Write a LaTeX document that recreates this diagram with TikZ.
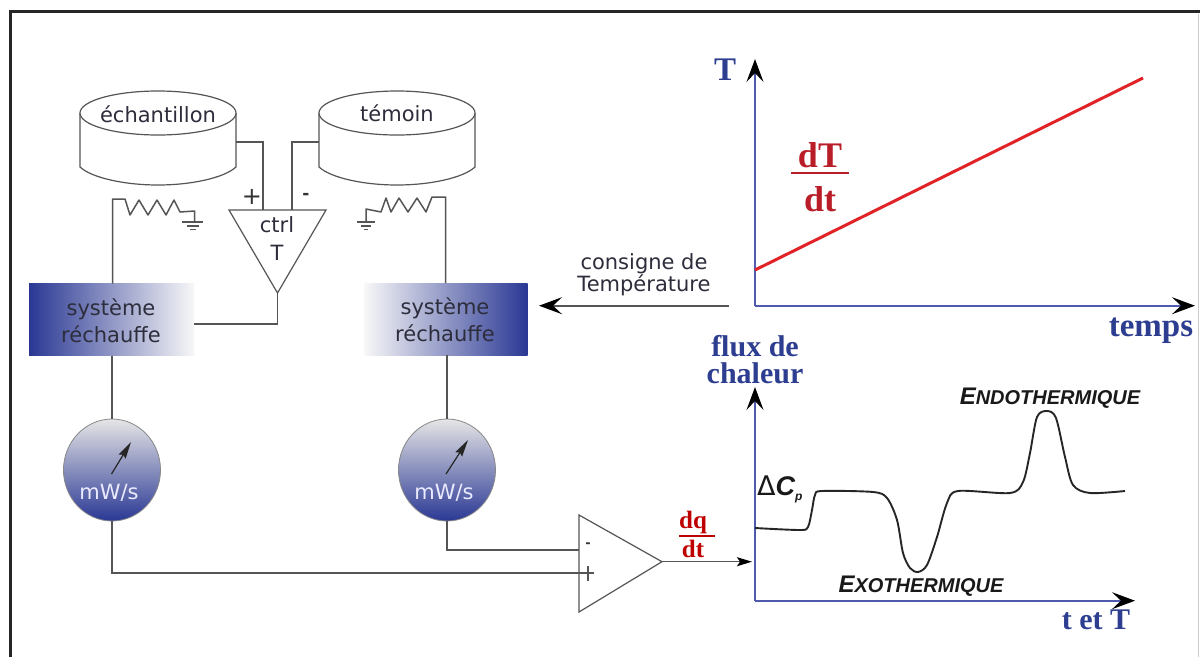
\documentclass[tikz,border=0pt]{standalone}
\usepackage{fontspec}
\setmainfont{DejaVu Sans}
\newfontfamily\serifb{Liberation Serif}
\newfontfamily\hand{Liberation Sans}
\usetikzlibrary{arrows.meta,shapes.geometric}
\definecolor{dscblue}{RGB}{42,56,148}
\definecolor{titleblue}{RGB}{45,62,145}
\definecolor{axisblue}{RGB}{80,90,175}
\definecolor{dscred}{RGB}{185,30,40}
\definecolor{slope}{RGB}{225,35,40}
\definecolor{wire}{RGB}{85,85,85}
\definecolor{inktext}{RGB}{45,45,60}
\tikzset{
 x=1pt,y=-1pt,
 wireline/.style={draw=wire,line width=1.3pt},
 drum/.style={draw=wire,line width=1.2pt,fill=white},
 labeltext/.style={text=inktext,font=\fontsize{21}{28}\selectfont,inner sep=0pt,align=center},
 heatertext/.style={text=inktext,font=\fontsize{21}{27}\selectfont,inner sep=0pt,align=center},
 dial/.style={ellipse,inner sep=0pt,minimum width=97pt,minimum height=102pt,draw=wire!70,line width=.8pt,top color=black!10,middle color=blue!28!black!45,bottom color=dscblue},
 axisline/.style={draw=axisblue,line width=1.6pt},
 tiparrow/.style={-{Stealth[length=23pt,width=17pt,inset=9pt,color=black]}},
 smalltip/.style={-{Stealth[length=15pt,width=9pt,inset=3pt,color=black]}},
 bluetitle/.style={text=titleblue,font=\serifb\bfseries\fontsize{30}{27}\selectfont,inner sep=0pt,align=center},
 redtitle/.style={text=dscred,font=\serifb\bfseries,inner sep=0pt,align=center},
 handtext/.style={font=\hand\bfseries\itshape\fontsize{20}{20}\selectfont,text=black!90,inner sep=0pt},
 signtext/.style={text=black!80,inner sep=0pt},
 ampline/.style={draw=wire,line width=1.2pt,fill=white},
}
\newcommand{\bigfirst}[1]{{\fontsize{24}{24}\selectfont #1}}
\begin{document}
\begin{tikzpicture}
\useasboundingbox (0,0) rectangle (1200,657);
\fill[white] (0,0) rectangle (1200,657);
% frame
\draw[black!20,line width=1pt] (1198,14) -- (1198,657);
\draw[black!85,line width=3pt] (10,657) -- (10,11) -- (1200,11);
% sample holders
\draw[drum] (80,113) -- (80,167) .. controls (92,178) and (125,185) .. (158,185) .. controls (191,185) and (224,178) .. (236,167) -- (236,113);
\draw[drum] (158,113) ellipse [x radius=78,y radius=22];
\node[labeltext] (ech) at (158,114) {échantillon};
\draw[drum] (319,113) -- (319,167) .. controls (331,178) and (364,185) .. (397,185) .. controls (430,185) and (463,178) .. (475,167) -- (475,113);
\draw[drum] (397,113) ellipse [x radius=78,y radius=22];
\node[labeltext] (tem) at (397,113) {témoin};
% named points
\coordinate (echR) at (236,142);
\coordinate (temL) at (319,142);
\coordinate (plusIn) at (263,210);
\coordinate (minusIn) at (292,210);
\coordinate (ctrlA) at (229,210);
\coordinate (ctrlB) at (326,210);
\coordinate (ctrlC) at (277.5,293);
% temperature controller
\draw[ampline] (ctrlA) -- (ctrlB) -- (ctrlC) -- cycle;
\draw[wireline] (echR) -| (plusIn);
\draw[wireline] (temL) -| (minusIn);
\node[labeltext] (ctrl) at (277,239) {ctrl\\T};
\node[signtext,font=\fontsize{24}{24}\selectfont] (plus) at (252,197) {+};
\node[signtext,font=\bfseries\fontsize{17}{17}\selectfont] (minus) at (306,196) {-};
% heaters
\node[inner sep=0pt,minimum width=165pt,minimum height=72pt,left color=dscblue,middle color=dscblue!72!white,right color=black!3] (heatL) at (111.5,319.5) {};
\node[heatertext] (heatLt) at (111,321) {système\\réchauffe};
\node[inner sep=0pt,minimum width=163pt,minimum height=72pt,right color=dscblue,middle color=dscblue!72!white,left color=black!3] (heatR) at (446,319) {};
\node[heatertext] (heatRt) at (445,320) {système\\réchauffe};
\draw[wireline] (ctrlC) |- (heatL.east |- 0,324);
% resistors
\coordinate (groundL) at (194.6,222);
\coordinate (groundR) at (366,222);
\draw[wireline,line width=1.5pt,line join=round] (112.5,283.5) -- (112.5,199) -- (125,199) -- (130,215) -- (139,200) -- (148,215) -- (157,200) -- (166,215) -- (174,200) -- (180,212) -- (194.6,211) -- (groundL);
\draw[wireline,line width=1.5pt] (182,222) -- (203,222) (186.5,226) -- (199,226) (190,229.5) -- (196,229.5);
\draw[wireline,line width=1.5pt,line join=round] (445.7,283) -- (445.7,197) -- (432,197) -- (426,212) -- (417,198) -- (408,212) -- (399,198) -- (391,212) -- (386,198) -- (381,212) -- (366,209) -- (groundR);
\draw[wireline,line width=1.5pt] (357,222) -- (375,222) (361,226) -- (371,226) (364,229.5) -- (368,229.5);
% dials
\node[dial] (dialL) at (112,470) {};
\node[dial] (dialR) at (447,470) {};
\draw[wireline] (heatL.south -| dialL.north) -- (dialL.north);
\draw[wireline] (heatR.south -| dialR.north) -- (dialR.north);
\coordinate (nL0) at (111.5,474); \coordinate (nL1) at (131,442);
\coordinate (nR0) at (446,474); \coordinate (nR1) at (468,440);
\draw[draw=black!85,line width=1.2pt,-{Stealth[length=17pt,width=8pt,inset=2pt]}] (nL0) -- (nL1);
\draw[draw=black!85,line width=1.2pt,-{Stealth[length=17pt,width=8pt,inset=2pt]}] (nR0) -- (nR1);
\node[labeltext,text=white!92!blue] (mwL) at (109,493) {mW/s};
\node[labeltext,text=white!92!blue] (mwR) at (444,493) {mW/s};
% output amplifier
\coordinate (ampA) at (579,515);
\coordinate (ampB) at (579,612);
\coordinate (ampC) at (662,561.7);
\coordinate (ampMinus) at (579,550);
\coordinate (ampPlus) at (594,573);
\draw[ampline] (ampA) -- (ampC) -- (ampB) -- cycle;
\draw[wireline] (dialR.south) |- (ampMinus);
\draw[wireline,line width=1.5pt] (dialL.south) |- (ampPlus);
\draw[wireline,line width=1.1pt] (588,566) -- (588,581);
\node[signtext,font=\bfseries\fontsize{13}{13}\selectfont] (ampMinusSign) at (588,545) {-};
\coordinate (flowIn) at (752,561.7);
\draw[wireline,smalltip] (ampC) -- (flowIn);
\node[redtitle,font=\serifb\bfseries\fontsize{25}{25}\selectfont,text=red!75!black] (dq) at (693,522) {dq};
\draw[draw=red!75!black,line width=1.2pt] (679,536) -- (715,536);
\node[redtitle,font=\serifb\bfseries\fontsize{25}{25}\selectfont,text=red!75!black] (dtA) at (693,549) {dt};
% T graph
\coordinate (o1) at (755,305.7);
\coordinate (y1) at (755,59);
\coordinate (x1) at (1195,305.7);
\draw[axisline,tiparrow] (o1) -- (y1);
\draw[axisline,tiparrow] (o1) -- (x1);
\coordinate (slope0) at (755,270);
\coordinate (slope1) at (1143,78);
\draw[draw=slope,line width=3pt] (slope0) -- (slope1);
\node[bluetitle,font=\serifb\bfseries\fontsize{33}{33}\selectfont] (Tlabel) at (725,70) {T};
\node[bluetitle,font=\serifb\bfseries\fontsize{33}{33}\selectfont] (temps) at (1151,331) {temps};
\node[redtitle,font=\serifb\bfseries\fontsize{36}{36}\selectfont] (dT) at (820,155) {dT};
\draw[draw=dscred,line width=2pt] (791,172.7) -- (849,172.7);
\node[redtitle,font=\serifb\bfseries\fontsize{36}{36}\selectfont] (dtB) at (820,199) {dt};
\node[labeltext,font=\fontsize{21}{20}\selectfont] (consigne) at (644,275) {consigne de\\Température};
\coordinate (cons0) at (729,305.7);
\coordinate (cons1) at (539,305.7);
\draw[wireline,line width=1.6pt,tiparrow] (cons0) -- (cons1);
% heat flow graph
\coordinate (o2) at (755,600.7);
\coordinate (y2) at (755,387);
\coordinate (x2) at (1135,600.7);
\draw[axisline,tiparrow] (o2) -- (y2);
\draw[axisline,tiparrow] (o2) -- (x2);
\node[bluetitle] (flux) at (755,360) {flux de\\chaleur};
\node[bluetitle] (tetT) at (1096,620) {t et T};
\draw[black!85,line width=1.9pt,line join=round] plot[smooth,tension=.5] coordinates {(755,528) (800,530) (808,527) (812,510) (815,495) (822,491) (873,492) (887,498) (897,520) (903,553) (910,568) (918,572) (927,565) (937,537) (947,503) (958,491) (1010,493) (1023,482) (1030,453) (1037,417) (1047,411) (1056,418) (1065,457) (1073,485) (1090,493) (1125,491)};
\node[handtext,font=\hand\bfseries\itshape\fontsize{20}{20}\selectfont] (endo) at (1050,398) {\bigfirst{E}NDOTHERMIQUE};
\node[handtext] (exo) at (921,586) {\bigfirst{E}XOTHERMIQUE};
\node[inner sep=0pt,anchor=west,text=black!90,font=\fontsize{27}{27}\selectfont] (dcp) at (757,489) {Δ{\hand\bfseries\itshape C}\raisebox{-5pt}{\hand\bfseries\itshape\fontsize{12}{12}\selectfont p}};
\end{tikzpicture}
\end{document}
